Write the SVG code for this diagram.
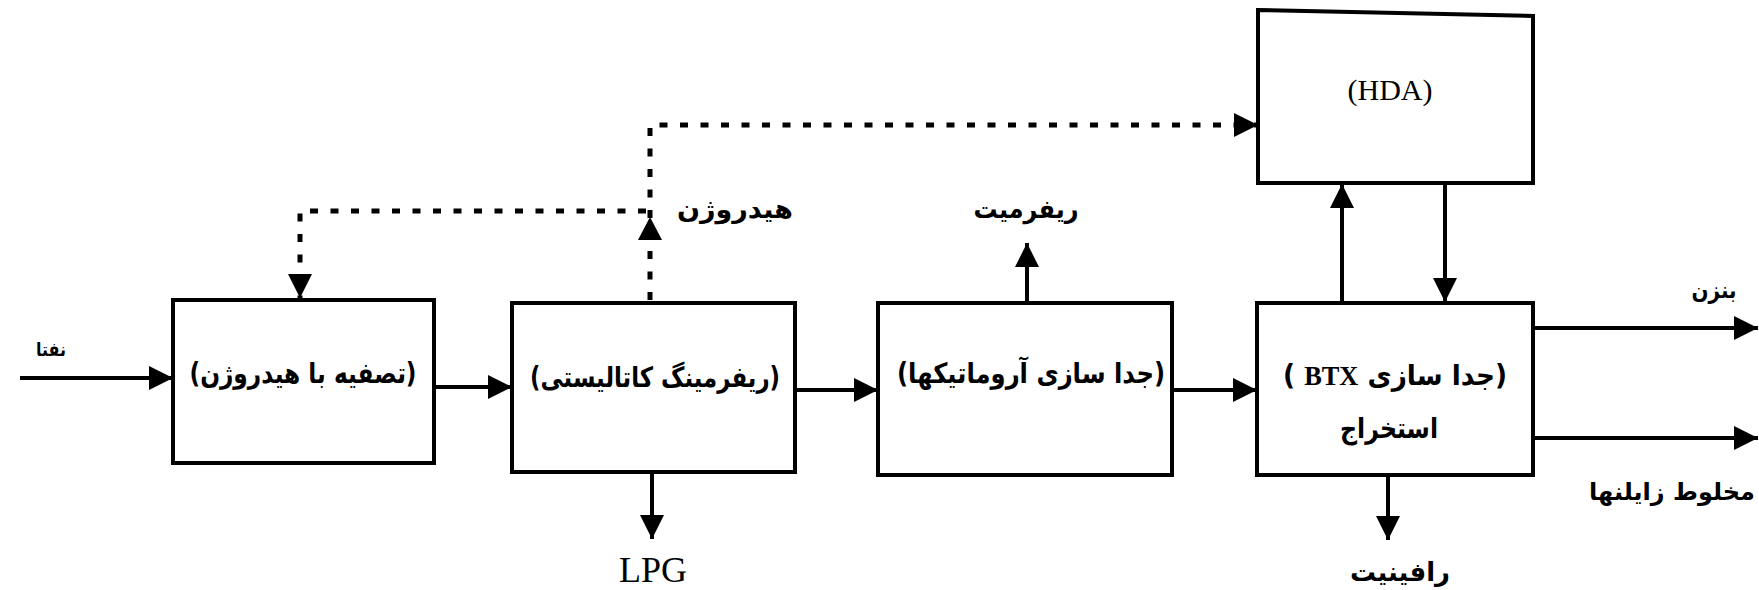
<svg xmlns="http://www.w3.org/2000/svg" width="1759" height="590" viewBox="0 0 1759 590">
  <style>
    .box { fill: #ffffff; stroke: #000000; stroke-width: 4; }
    .flow { fill: none; stroke: #000000; stroke-width: 4; }
    .gas { fill: none; stroke: #000000; stroke-width: 5; stroke-dasharray: 8 12.5; }
    .fa { font-family: "DejaVu Sans", sans-serif; font-weight: bold; fill: #000000; direction: rtl; unicode-bidi: embed; text-anchor: middle; }
    .fa-plain { font-family: "DejaVu Sans", sans-serif; font-weight: bold; fill: #000000; text-anchor: middle; }
    .lat { font-family: "Liberation Serif", serif; fill: #000000; text-anchor: middle; }
  </style>
  <defs>
    <marker id="head" markerUnits="userSpaceOnUse" markerWidth="26" markerHeight="26" refX="24" refY="12" orient="auto">
      <path d="M0,0 L24,12 L0,24 Z" fill="#000000"/>
    </marker>
  </defs>

  <rect width="1759" height="590" fill="#ffffff"/>

  <!-- connectors -->
  <g id="connectors">
    <!-- feed -->
    <path class="flow" d="M20,378 H173" marker-end="url(#head)"/>
    <path class="flow" d="M434,387 H512" marker-end="url(#head)"/>
    <path class="flow" d="M795,390 H878" marker-end="url(#head)"/>
    <path class="flow" d="M1172,390 H1257" marker-end="url(#head)"/>
    <!-- products -->
    <path class="flow" d="M652,472 V539" marker-end="url(#head)"/>
    <path class="flow" d="M1027,302 V243" marker-end="url(#head)"/>
    <path class="flow" d="M1342,303 V184" marker-end="url(#head)"/>
    <path class="flow" d="M1445,183 V302" marker-end="url(#head)"/>
    <path class="flow" d="M1533,328 H1758" marker-end="url(#head)"/>
    <path class="flow" d="M1533,438 H1758" marker-end="url(#head)"/>
    <path class="flow" d="M1388,475 V540" marker-end="url(#head)"/>
    <!-- hydrogen loops -->
    <path class="gas" d="M650,300 V125 H1258" marker-end="url(#head)"/>
    <path class="gas" d="M646,211 H300 V298" marker-end="url(#head)"/>
    <path d="M638,240 L650,217 L662,240 Z" fill="#000000"/>
  </g>

  <g id="feed-label">
    <text class="fa" x="51" y="356" font-size="19" textLength="30" lengthAdjust="spacingAndGlyphs">نفتا</text>
  </g>

  <g id="hydrotreating">
    <rect class="box" x="173" y="300" width="261" height="163"/>
    <text class="fa" x="303" y="383" font-size="28" textLength="227" lengthAdjust="spacingAndGlyphs">(تصفیه با هیدروژن)</text>
  </g>

  <g id="catalytic-reforming">
    <rect class="box" x="512" y="303" width="283" height="169"/>
    <text class="fa" x="655" y="387" font-size="28" textLength="250" lengthAdjust="spacingAndGlyphs">(ریفرمینگ کاتالیستی)</text>
  </g>

  <g id="aromatics-separation">
    <rect class="box" x="878" y="303" width="294" height="172"/>
    <text class="fa" x="1031" y="383" font-size="28" textLength="268" lengthAdjust="spacingAndGlyphs">(جدا سازی آروماتیکها)</text>
  </g>

  <g id="btx-extraction">
    <rect class="box" x="1257" y="303" width="276" height="172"/>
    <text class="fa" x="1395" y="385" font-size="28" textLength="224" lengthAdjust="spacingAndGlyphs">(جدا سازی <tspan font-family="Liberation Serif, serif" font-weight="bold">BTX</tspan> )</text>
    <text class="fa" x="1389" y="438" font-size="28" textLength="98" lengthAdjust="spacingAndGlyphs">استخراج</text>
  </g>

  <g id="hda">
    <polygon class="box" points="1258,10 1533,16 1533,183 1258,183"/>
    <text class="lat" x="1390" y="100" font-size="30">(HDA)</text>
  </g>

  <g id="stream-labels">
    <text class="fa" x="735" y="218" font-size="26" textLength="116" lengthAdjust="spacingAndGlyphs">هیدروژن</text>
    <text class="fa" x="1026" y="218" font-size="26" textLength="105" lengthAdjust="spacingAndGlyphs">ریفرمیت</text>
    <text class="fa" x="1714" y="298" font-size="23" textLength="45" lengthAdjust="spacingAndGlyphs">بنزن</text>
    <text class="fa-plain" x="1672" y="500" font-size="24">مخلوط زایلنها</text>
    <text class="fa" x="1400" y="581" font-size="26" textLength="100" lengthAdjust="spacingAndGlyphs">رافینیت</text>
    <text class="lat" x="653" y="582" font-size="36">LPG</text>
  </g>
</svg>
